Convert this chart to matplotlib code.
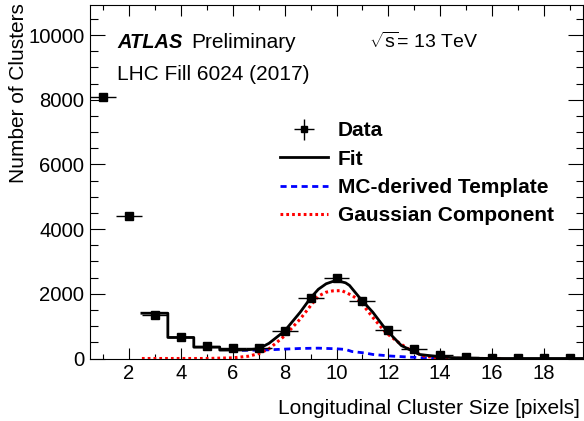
import matplotlib
matplotlib.use("Agg")
import matplotlib.pyplot as plt
from matplotlib.ticker import MultipleLocator
from matplotlib.lines import Line2D

plt.rcParams['font.family'] = ['Liberation Sans', 'DejaVu Sans']
plt.rcParams['mathtext.fontset'] = 'custom'
plt.rcParams['mathtext.rm'] = 'Liberation Sans'

# ---- data ----
data_x = [1, 2, 3, 4, 5, 6, 7, 8, 9, 10, 11, 12, 13, 14, 15, 16, 17, 18, 19]
data_y = [8100, 4400, 1360, 650, 385, 310, 330, 835, 1865, 2500, 1790, 875, 280, 115, 60, 30, 15, 10, 10]
data_xerr = [0.5] * len(data_x)

fit_x = [2.5, 3.5, 3.5, 4.5, 4.5, 5.5, 5.5, 6.5, 7.0, 7.4, 8.0, 8.6, 9.0, 9.3, 9.6, 9.85,
         10.1, 10.35, 10.5, 10.9, 11.4, 11.9, 12.5, 13.2, 14.0, 14.6, 15.5, 16.5, 19.5]
fit_y = [1400, 1400, 650, 650, 350, 350, 260, 265, 300, 470, 850, 1430, 1870, 2140, 2310, 2380,
         2390, 2340, 2260, 1870, 1430, 900, 400, 125, 50, 20, 5, 0, 0]

tmpl_x = [5.95, 7.15, 8.0, 8.6, 9.3, 10.0, 10.35, 10.6, 11.1, 11.4, 12.1, 12.9, 13.7, 14.3]
tmpl_y = [250, 260, 290, 310, 320, 300, 280, 215, 170, 125, 75, 40, 10, 0]

gaus_x = [2.5, 5.0, 6.0, 6.6, 7.0, 7.4, 8.0, 8.6, 9.0, 9.3, 9.6, 9.85, 10.2, 10.6, 10.9,
          11.4, 11.9, 12.4, 12.9, 13.4, 14.0, 15.0, 16.4]
gaus_y = [0, 0, 20, 70, 150, 300, 700, 1220, 1630, 1930, 2050, 2090, 2100, 1950, 1780,
          1270, 800, 490, 230, 70, 10, 0, 0]

legend_labels = ["Data", "Fit", "MC-derived Template", "Gaussian Component"]

W, H = 584, 421
fig = plt.figure(figsize=(W / 100, H / 100), dpi=100)
ax = fig.add_axes([90 / W, (H - 358.5) / H, 493 / W, 353.5 / H])

ax.plot(fit_x, fit_y, color='black', lw=2.0, zorder=3)
ax.plot(tmpl_x, tmpl_y, color='blue', lw=2.0, ls=(0, (2.2, 1.6)), zorder=2)
ax.plot(gaus_x, gaus_y, color='red', lw=2.2, ls=(0, (0.9, 1.0)), zorder=2)
ax.errorbar(data_x, data_y, xerr=data_xerr, fmt='s', color='black', ms=5.8,
            elinewidth=1.0, capsize=0, zorder=4)
# legend proxy for the data marker (with both error-bar directions, as in the reference)
eb_proxy = ax.errorbar([float('nan')], [float('nan')], xerr=[1], yerr=[1], fmt='s',
                       color='black', ms=4.5, elinewidth=1.0, capsize=0)

ax.set_xlim(0.5, 19.5)
ax.set_ylim(0, 10930)
ax.xaxis.set_major_locator(MultipleLocator(2))
ax.xaxis.set_minor_locator(MultipleLocator(1))
ax.yaxis.set_major_locator(MultipleLocator(2000))
ax.yaxis.set_minor_locator(MultipleLocator(500))
ax.tick_params(axis='both', which='both', direction='in', top=True, right=True,
               labelsize=14.6, width=0.8, pad=4)
ax.tick_params(axis='x', which='major', length=7.6)
ax.tick_params(axis='x', which='minor', length=3.8)
ax.tick_params(axis='y', which='major', length=10.8)
ax.tick_params(axis='y', which='minor', length=5.4)
for s in ax.spines.values():
    s.set_linewidth(0.8)

fig.text(580 / W, 1 - 408 / H, "Longitudinal Cluster Size [pixels]", ha='right', va='center', fontsize=15)
fig.text(19 / W, 1 - 3 / H, "Number of Clusters", ha='center', va='top', rotation=90, fontsize=15)

fig.text(117 / W, 1 - 42 / H, "ATLAS", fontsize=14.4, fontweight='bold', fontstyle='italic', va='center')
fig.text(191 / W, 1 - 42 / H, "Preliminary", fontsize=15, va='center')
fig.text(117 / W, 1 - 75 / H, "LHC Fill 6024 (2017)", fontsize=15, va='center')
fig.text(369 / W, 1 - 42 / H, r"$\sqrt{\mathrm{s}}$= 13 TeV", fontsize=14, va='center')

handles = [eb_proxy,
           Line2D([], [], color='black', lw=2.0),
           Line2D([], [], color='blue', lw=2.0, ls=(0, (2.2, 1.6))),
           Line2D([], [], color='red', lw=2.2, ls=(0, (0.9, 1.0)))]
ax.legend(handles, legend_labels, loc='upper left', frameon=False,
          bbox_to_anchor=((280 - 90) / 493, (358.5 - 121.5) / 353.5),
          prop={'weight': 'bold', 'size': 15}, handlelength=2.3, handletextpad=0.48,
          labelspacing=0.44, borderpad=0, borderaxespad=0)

fig.savefig("out.png", dpi=100)
